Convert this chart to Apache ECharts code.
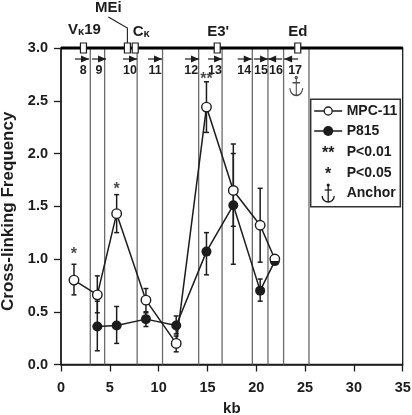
<!DOCTYPE html>
<html>
<head>
<meta charset="utf-8">
<style>
  html, body { margin: 0; padding: 0; background: #fff; }
  #chart { width: 412px; height: 415px; }
</style>
<script src="https://cdn.jsdelivr.net/npm/echarts@6/dist/echarts.min.js"></script>
</head>
<body>
<div id="chart"></div>
<script>
const FONT = "Liberation Sans"
const INK = "#1c1c1c"

const mpcKb = [1.33, 3.72, 5.7, 8.7, 11.8, 14.9, 17.65, 20.4, 21.9]
const mpcFreq = [0.8, 0.66, 1.43, 0.61, 0.2, 2.44, 1.65, 1.32, 1.0]
const mpcLow = [0.66, 0.49, 1.25, 0.49, 0.12, 2.2, 1.31, 0.97, 1.0]
const mpcHigh = [0.95, 0.84, 1.61, 0.72, 0.27, 2.68, 2.0, 1.67, 1.0]

const p815Kb = [3.72, 5.7, 8.7, 11.8, 14.9, 17.65, 20.4, 21.9]
const p815Freq = [0.36, 0.37, 0.43, 0.37, 1.07, 1.51, 0.7, 0.98]
const p815Low = [0.13, 0.2, 0.36, 0.29, 0.85, 0.95, 0.6, 0.98]
const p815High = [0.6, 0.55, 0.5, 0.46, 1.25, 2.09, 0.81, 0.98]

const boundaries = [3.0, 4.47, 7.8, 10.4, 14.1, 16.5, 19.6, 21.2, 22.8, 25.4]

const geneKb = [2.3, 6.8, 7.6, 16.0, 24.25]

const primerKb = [2.15, 3.9, 7.07, 9.63, 13.42, 15.78, 18.82, 20.49, 21.93, 23.57]
const primerDir = [1, 1, 1, 1, 1, 1, 1, 1, -1, -1]
const primerNames = ["8", "9", "10", "11", "12", "13", "14", "15", "16", "17"]
const primerLabelKb = [2.28, 3.9, 7.07, 9.63, 13.33, 15.78, 18.77, 20.49, 22.03, 23.98]

const starKb = [1.33, 5.7, 14.9]
const starFreq = [1.06, 1.68, 2.72]
const starText = ["*", "*", "**"]

const anchorKb = [24.1]
const anchorFreq = [2.64]

const legendNames = ["MPC-11", "P815", "P<0.01", "P<0.05", "Anchor"]

const ANCHOR_PATH = "M7 1A1 1 0 1 1 6.99 1ZM7 3L7 19M3.5 7L10.5 7M1 12Q2 19 7 19Q12 19 13 12"
const HALF_DISC = "M0 0A5 5 0 0 0 10 0Z"

const chart = echarts.init(document.getElementById("chart"), null, { renderer: "canvas" })

function errorBarSeries(kb, low, high) {
  return {
    type: "custom",
    z: 3,
    clip: false,
    silent: true,
    data: kb.map((x, i) => [x, low[i], high[i]]),
    renderItem(params, api) {
      const x = api.value(0)
      const a = api.coord([x, api.value(1)])
      const b = api.coord([x, api.value(2)])
      const style = { stroke: INK, lineWidth: 1.5, fill: null }
      return {
        type: "group",
        children: [
          { type: "line", shape: { x1: a[0], y1: a[1], x2: b[0], y2: b[1] }, style },
          { type: "line", shape: { x1: a[0] - 2.5, y1: a[1], x2: a[0] + 2.5, y2: a[1] }, style },
          { type: "line", shape: { x1: b[0] - 2.5, y1: b[1], x2: b[0] + 2.5, y2: b[1] }, style },
        ],
      }
    },
  }
}

function geneLabel(text, x, y) {
  return {
    type: "text",
    x,
    y,
    style: {
      text,
      align: "center",
      verticalAlign: "middle",
      fontFamily: FONT,
      fontWeight: "bold",
      fontSize: 15,
      fill: INK,
      rich: {
        k: { fontFamily: FONT, fontSize: 11, fontWeight: "bold", fill: INK, padding: [3, 0, 0, 0] },
      },
    },
  }
}

const legendX = 310.7
const legendY = 99.3
const legendRows = [111, 131, 152, 173, 193]

function legendGraphic() {
  const line = { stroke: INK, lineWidth: 1.5 }
  const thin = { stroke: INK, lineWidth: 1.3, fill: null }
  const iconX = legendX + 17.5
  const ay = legendRows[4]
  const children = [
    { type: "rect", shape: { x: legendX, y: legendY, width: 89.6, height: 107.4 }, style: { fill: "#fff", stroke: "#333", lineWidth: 1.5 } },
    { type: "line", shape: { x1: iconX - 14, y1: legendRows[0], x2: iconX + 14, y2: legendRows[0] }, style: line },
    { type: "circle", shape: { cx: iconX, cy: legendRows[0], r: 4 }, style: { fill: "#fff", stroke: INK, lineWidth: 1.3 } },
    { type: "line", shape: { x1: iconX - 14, y1: legendRows[1], x2: iconX + 14, y2: legendRows[1] }, style: line },
    { type: "circle", shape: { cx: iconX, cy: legendRows[1], r: 5 }, style: { fill: INK } },
    { type: "text", x: iconX, y: legendRows[2] + 2, style: { text: "**", align: "center", verticalAlign: "middle", fontFamily: FONT, fontWeight: "bold", fontSize: 16, fill: INK } },
    { type: "text", x: iconX, y: legendRows[3] + 2, style: { text: "*", align: "center", verticalAlign: "middle", fontFamily: FONT, fontWeight: "bold", fontSize: 16, fill: INK } },
    { type: "circle", shape: { cx: iconX, cy: ay - 8, r: 1.6 }, style: { fill: INK } },
    { type: "line", shape: { x1: iconX, y1: ay - 8, x2: iconX, y2: ay + 9 }, style: thin },
    { type: "line", shape: { x1: iconX - 3.5, y1: ay - 3, x2: iconX + 3.5, y2: ay - 3 }, style: thin },
    { type: "arc", shape: { cx: iconX, cy: ay + 3, r: 6, startAngle: 0, endAngle: Math.PI, clockwise: true }, style: thin },
  ]
  legendNames.forEach((name, i) => {
    children.push({
      type: "text",
      x: legendX + 36,
      y: legendRows[i],
      style: { text: name, verticalAlign: "middle", fontFamily: FONT, fontWeight: "bold", fontSize: 14, fill: INK },
    })
  })
  return { type: "group", z: 20, children }
}

chart.setOption({
  animation: false,
  backgroundColor: "#fff",
  textStyle: { fontFamily: FONT },
  grid: { left: 61, right: 9.3, top: 48, bottom: 50.5, outerBoundsMode: "none", show: true, borderColor: INK, borderWidth: 1.3, backgroundColor: "transparent" },
  xAxis: {
    type: "value",
    min: 0,
    max: 35,
    interval: 5,
    name: "kb",
    nameLocation: "middle",
    nameGap: 37,
    nameTextStyle: { fontFamily: FONT, fontWeight: "bold", fontSize: 15, color: INK },
    splitLine: { show: false },
    axisLine: { onZero: false, lineStyle: { color: INK, width: 1.5 } },
    axisTick: { length: 7, lineStyle: { color: INK, width: 1.3 } },
    axisLabel: { margin: 16, fontFamily: FONT, fontWeight: "bold", fontSize: 14.5, color: INK },
  },
  yAxis: {
    type: "value",
    min: 0,
    max: 3,
    interval: 0.5,
    name: "Cross-linking Frequency",
    nameLocation: "middle",
    nameGap: 28,
    nameTextStyle: { fontFamily: FONT, fontWeight: "bold", fontSize: 17, color: INK, padding: [0, 10, 0, 0] },
    splitLine: { show: false },
    axisLine: { show: true, onZero: false, lineStyle: { color: INK, width: 1.5 } },
    axisTick: { show: true, length: 7, lineStyle: { color: INK, width: 1.3 } },
    axisLabel: { margin: 13, fontFamily: FONT, fontWeight: "bold", fontSize: 14.5, color: INK, formatter: v => v.toFixed(1) },
  },
  graphic: [legendGraphic()],
  series: [
    {
      type: "custom",
      z: 1,
      silent: true,
      data: boundaries.map(x => [x]),
      renderItem(params, api) {
        const a = api.coord([api.value(0), 0])
        const b = api.coord([api.value(0), 3])
        return { type: "line", shape: { x1: a[0], y1: a[1], x2: b[0], y2: b[1] }, style: { stroke: "#6b6b6b", lineWidth: 1.3 } }
      },
    },
    {
      type: "line",
      z: 2,
      silent: true,
      clip: false,
      symbol: "none",
      lineStyle: { color: "#000", width: 3 },
      data: [[0, 3], [35, 3]],
    },
    {
      type: "custom",
      z: 4,
      clip: false,
      silent: true,
      data: geneKb.map(x => [x]),
      renderItem(params, api) {
        const p = api.coord([api.value(0), 3])
        const children = [
          { type: "rect", shape: { x: p[0] - 3, y: p[1] - 5, width: 6, height: 10 }, style: { fill: "#fff", stroke: INK, lineWidth: 1.2 } },
        ]
        if (params.dataIndex === 0) children.push(geneLabel("V{k|κ}19", p[0] + 1, p[1] - 18))
        if (params.dataIndex === 1) {
          children.push(geneLabel("MEi", p[0] - 19, p[1] - 40))
          children.push({
            type: "polyline",
            shape: { points: [[p[0] - 19, p[1] - 31], [p[0], p[1] - 20], [p[0], p[1] - 5]] },
            style: { stroke: INK, lineWidth: 1.1, fill: null },
          })
        }
        if (params.dataIndex === 2) children.push(geneLabel("C{k|κ}", p[0] + 6, p[1] - 16))
        if (params.dataIndex === 3) children.push(geneLabel("E3'", p[0] + 1, p[1] - 16))
        if (params.dataIndex === 4) children.push(geneLabel("Ed", p[0], p[1] - 16))
        return { type: "group", children }
      },
    },
    {
      type: "custom",
      z: 4,
      clip: false,
      silent: true,
      data: primerKb.map((x, i) => [x, primerDir[i], primerLabelKb[i]]),
      renderItem(params, api) {
        const p = api.coord([api.value(0), 3])
        const dir = api.value(1)
        const y = p[1] + 11
        const tip = p[0] + dir * 7
        const base = tip - dir * 8
        const labelX = api.coord([api.value(2), 3])[0]
        return {
          type: "group",
          children: [
            { type: "line", shape: { x1: p[0] - dir * 7, y1: y, x2: tip, y2: y }, style: { stroke: INK, lineWidth: 1.2 } },
            { type: "polygon", shape: { points: [[tip, y], [base, y - 3.5], [base, y + 3.5]] }, style: { fill: INK } },
            {
              type: "text",
              x: labelX,
              y: p[1] + 23,
              style: { text: primerNames[params.dataIndex], align: "center", verticalAlign: "middle", fontFamily: FONT, fontWeight: "bold", fontSize: 12.5, fill: INK },
            },
          ],
        }
      },
    },
    errorBarSeries(mpcKb, mpcLow, mpcHigh),
    errorBarSeries(p815Kb, p815Low, p815High),
    {
      name: "MPC-11",
      type: "line",
      z: 5,
      clip: false,
      symbol: "circle",
      symbolSize: 9.5,
      showAllSymbol: true,
      lineStyle: { color: INK, width: 1.5 },
      itemStyle: { color: "#fff", borderColor: INK, borderWidth: 1.4 },
      data: mpcKb.map((x, i) => [x, mpcFreq[i]]),
    },
    {
      name: "P815",
      type: "line",
      z: 6,
      clip: false,
      symbol: "circle",
      symbolSize: 10,
      showAllSymbol: true,
      lineStyle: { color: INK, width: 1.5 },
      itemStyle: { color: INK },
      // last point sits on the MPC-11 one, only the lower half of it shows
      data: p815Kb.map((x, i) => i === p815Kb.length - 1
        ? { value: [x, p815Freq[i]], symbol: "path://" + HALF_DISC, symbolSize: [10, 5], symbolOffset: [0, 2.5] }
        : [x, p815Freq[i]]),
    },
    {
      name: "significance",
      type: "scatter",
      z: 7,
      clip: false,
      silent: true,
      symbolSize: 0,
      label: {
        show: true,
        position: "inside",
        fontFamily: FONT,
        fontWeight: "bold",
        fontSize: 16,
        color: INK,
        offset: [0, 2],
        formatter: p => starText[p.dataIndex],
      },
      data: starKb.map((x, i) => [x, starFreq[i]]),
    },
    {
      name: "Anchor",
      type: "scatter",
      z: 7,
      clip: false,
      silent: true,
      symbol: "path://" + ANCHOR_PATH,
      symbolSize: [13, 19],
      itemStyle: { color: "transparent", borderColor: INK, borderWidth: 1.3 },
      data: anchorKb.map((x, i) => [x, anchorFreq[i]]),
    },
  ],
})
</script>
</body>
</html>
